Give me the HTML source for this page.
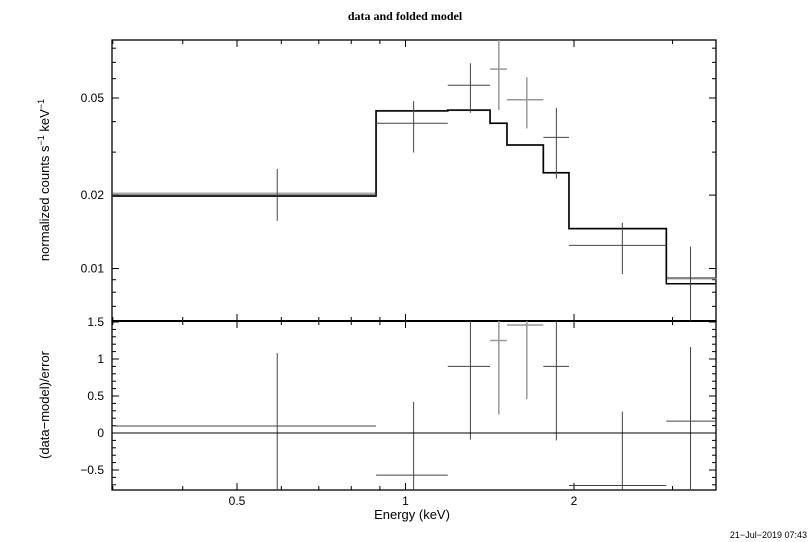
<!DOCTYPE html>
<html><head><meta charset="utf-8"><style>
html,body{margin:0;padding:0;background:#fff;}
svg{display:block;font-family:"Liberation Sans",sans-serif;}
</style></head><body>
<svg id="c" width="811" height="542">
<text x="405" y="20" text-anchor="middle" font-family="Liberation Serif" font-weight="bold" font-size="12">data and folded model</text>
<text transform="translate(49,180) rotate(-90)" text-anchor="middle" font-size="13">normalized counts s<tspan dy="-5" font-size="9">−1</tspan><tspan dy="5"> keV</tspan><tspan dy="-5" font-size="9">−1</tspan></text>
<text transform="translate(49,405) rotate(-90)" text-anchor="middle" font-size="13">(data−model)/error</text>
<text x="412" y="519" text-anchor="middle" font-size="13">Energy (keV)</text>
<text x="807" y="538" text-anchor="end" font-size="9">21−Jul−2019 07:43</text>
<g id="g"></g>
</svg>
<script>
const binEdges=[0.3,0.886,1.19,1.416,1.518,1.763,1.959,2.924,3.59];
const binCenters=[0.59,1.034,1.306,1.468,1.647,1.86,2.44,3.23];
const dataVals=[0.0200,0.0394,0.0564,0.0657,0.0492,0.0345,0.01245,0.00916];
const dataHi=[0.0256,0.0486,0.0694,0.095,0.0608,0.0455,0.0154,0.0123];
const dataLo=[0.0157,0.0299,0.0435,0.0446,0.0375,0.0234,0.0095,0.005];
const modelVals=[0.0198,0.0443,0.0446,0.0394,0.0321,0.0247,0.01458,0.00866];
const modelGray=[0.0203,0.0443,0.0446,0.0394,0.0321,0.0247,0.01458,0.0091];
const resVals=[0.095,-0.57,0.90,1.25,1.46,0.90,-0.71,0.16];
const resHi=[1.08,0.42,1.9,1.9,1.9,1.9,0.29,1.16];
const resLo=[-0.9,-1.5,-0.09,0.25,0.46,-0.10,-1.5,-0.9];
const grayPts=[false,false,false,true,true,false,false,false];
const xTicksMajor=[0.5,1,2];
const xTickLabels=["0.5","1","2"];
const topYMajor=[0.01,0.02,0.05];
const topYLabels=["0.01","0.02","0.05"];
const botYMajor=[-0.5,0,0.5,1,1.5];
const botYLabels=["−0.5","0","0.5","1","1.5"];

const L=112,R=716,T=40,M=321,B=490;
const X=e=>237+168.5*Math.log2(e/0.5);
const YT=v=>98-244*Math.log10(v/0.05);
const YB=v=>433-74*v;
const g=document.getElementById('g');
const NS='http://www.w3.org/2000/svg';
function el(t,a,name){const e=document.createElementNS(NS,t);for(const k in a)e.setAttribute(k,a[k]);


g.appendChild(e);return e;}
function ln(x1,y1,x2,y2,s,w,name){return el('line',{x1,y1,x2,y2,stroke:s,'stroke-width':w},name);}
function clipY(y,a,b){return Math.max(a,Math.min(b,y));}
el('rect',{x:L,y:T,width:R-L,height:M-T,fill:'none',stroke:'#000','stroke-width':1.3},'top-panel-frame');
el('rect',{x:L,y:M,width:R-L,height:B-M,fill:'none',stroke:'#000','stroke-width':1.3},'bottom-panel-frame');
ln(L,M,R,M,'#000',2,'panel-divider');
const xminor=[0.3,0.4,0.6,0.7,0.8,0.9,3];
[[T,1],[M,-1],[M,1],[B,-1]].forEach(([y,d])=>{
  xTicksMajor.forEach(v=>ln(X(v),y,X(v),y+d*7,'#000',1,'x-major-tick'));
  xminor.forEach(v=>ln(X(v),y,X(v),y+d*4,'#000',1,'x-minor-tick'));
});
xTicksMajor.forEach((v,i)=>{const t=el('text',{x:X(v),y:505,'text-anchor':'middle','font-size':12},'x-tick-label');t.textContent=xTickLabels[i];});
const tminor=[0.007,0.008,0.009,0.03,0.04,0.06,0.07,0.08];
[[L,1],[R,-1]].forEach(([x,d])=>{
  topYMajor.forEach(v=>ln(x,YT(v),x+d*7,YT(v),'#000',1,'top-y-major-tick'));
  tminor.forEach(v=>ln(x,YT(v),x+d*4,YT(v),'#000',1,'top-y-minor-tick'));
});
topYMajor.forEach((v,i)=>{const t=el('text',{x:104,y:YT(v)+4,'text-anchor':'end','font-size':12},'top-y-tick-label');t.textContent=topYLabels[i];});
[[L,1],[R,-1]].forEach(([x,d])=>{
  botYMajor.forEach(v=>ln(x,YB(v),x+d*7,YB(v),'#000',1,'bottom-y-major-tick'));
  for(let k=-7;k<=15;k++){const v=k/10;if(k%5)ln(x,YB(v),x+d*4,YB(v),'#000',1,'bottom-y-minor-tick');}
});
botYMajor.forEach((v,i)=>{const t=el('text',{x:104,y:YB(v)+4,'text-anchor':'end','font-size':12},'bottom-y-tick-label');t.textContent=botYLabels[i];});
function steps(vals){let d='';vals.forEach((v,i)=>{const y=YT(v);d+=(i?'L':'M')+X(binEdges[i])+' '+y+'L'+X(binEdges[i+1])+' '+y;});return d;}
el('path',{d:steps(modelGray),fill:'none',stroke:'#aaa','stroke-width':2},'model-gray-line');
el('path',{d:steps(modelVals),fill:'none',stroke:'#000','stroke-width':1.5},'folded-model-line');
binCenters.forEach((c,i)=>{
  const col=grayPts[i]?'#999':'#444',w=grayPts[i]?1.5:1;
  const x0=X(binEdges[i]),x1=X(binEdges[i+1]),xc=X(c);
  const y=YT(dataVals[i]);
  ln(x0,y,x1,y,col,w,'data-xerr');
  ln(xc,clipY(YT(dataHi[i]),T,M),xc,clipY(YT(dataLo[i]),T,M),col,w,'data-yerr');
  const yr=YB(resVals[i]);
  ln(x0,yr,x1,yr,col,w,'residual-xerr');
  ln(xc,clipY(YB(resHi[i]),M,B),xc,clipY(YB(resLo[i]),M,B),col,w,'residual-yerr');
});
ln(L,YB(0),R,YB(0),'#000',1,'zero-line');
</script>
</body></html>
